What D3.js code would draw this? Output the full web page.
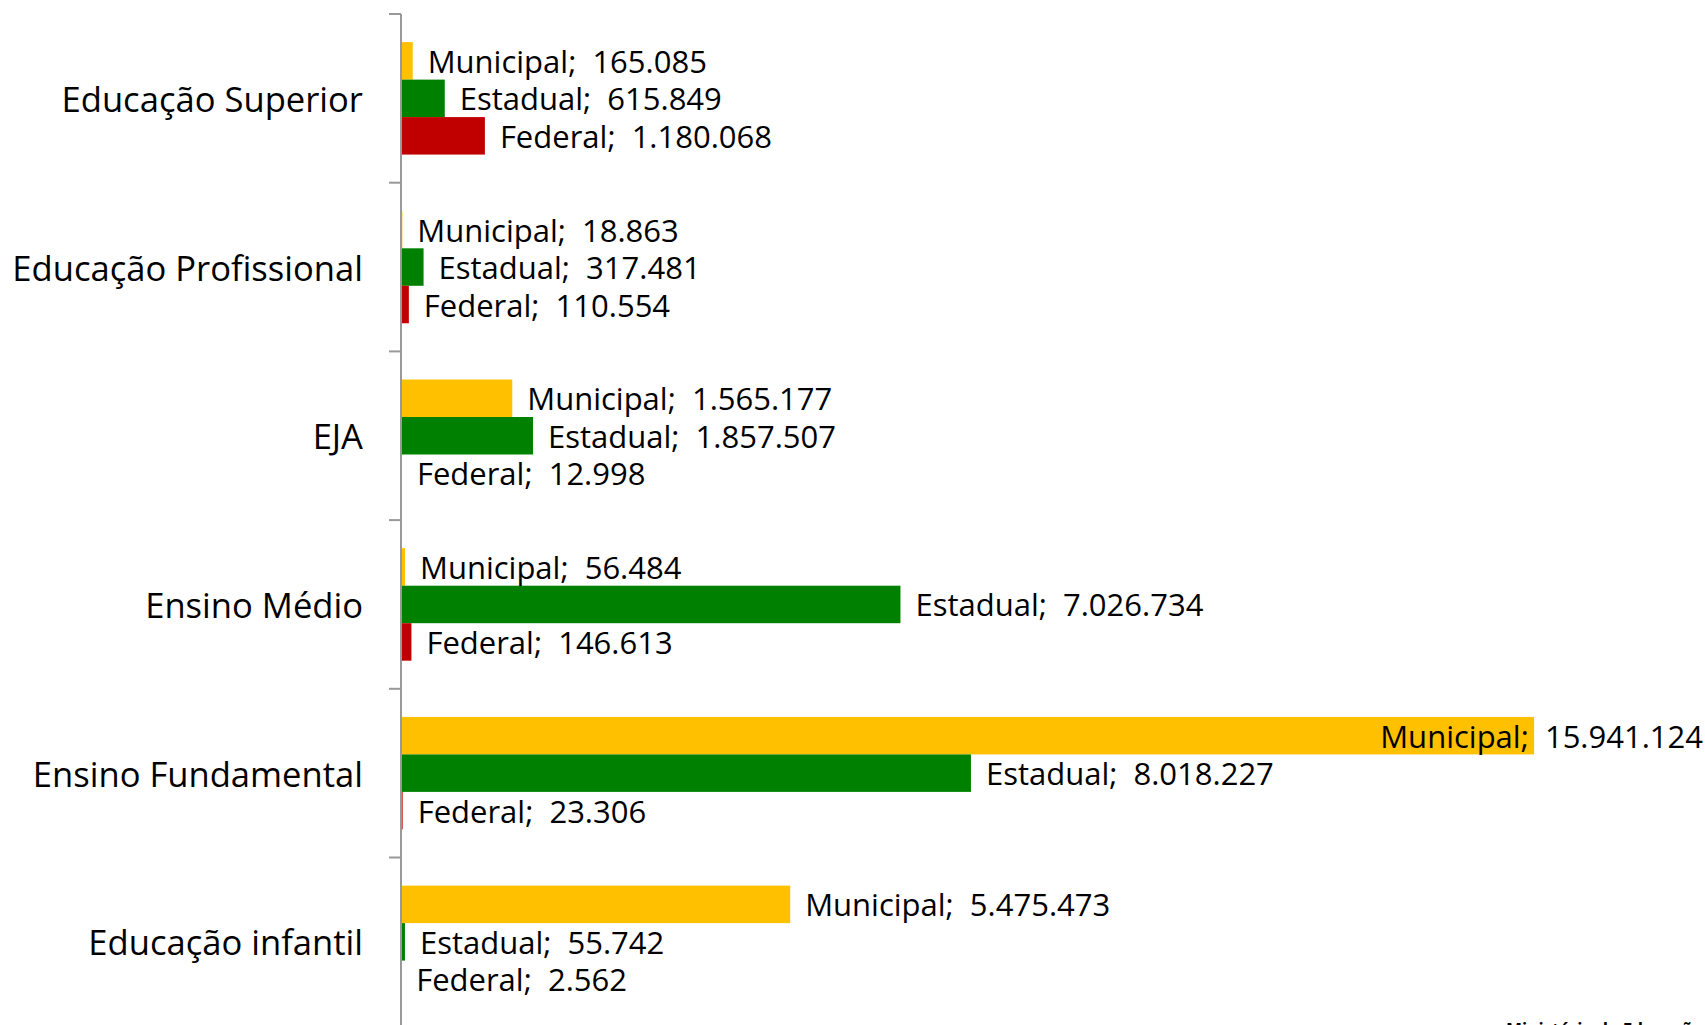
<!DOCTYPE html>
<html>
<head>
<meta charset="utf-8">
<script src="https://d3js.org/d3.v7.min.js"></script>
<style>
  body { margin: 0; background: #fff; overflow: hidden; }
  svg { display: block; font-family: "Open Sans", Lato, sans-serif; }
</style>
</head>
<body>
<svg id="chart" width="1705" height="1025"></svg>
<script>
// categories, top to bottom
var categories = ["Educação Superior", "Educação Profissional", "EJA", "Ensino Médio", "Ensino Fundamental", "Educação infantil"];
var series = ["Municipal", "Estadual", "Federal"];
var colors = ["#FFC000", "#008000", "#C00000"];

// values per category, same order as categories
var municipal = [165085, 18863, 1565177, 56484, 15941124, 5475473];
var estadual = [615849, 317481, 1857507, 7026734, 8018227, 55742];
var federal = [1180068, 110554, 12998, 146613, 23306, 2562];

var valueLists = [municipal, estadual, federal];

var svg = d3.select("#chart");
var axisX = 401, rightEdge = 1703;

// x: 0 .. 16M fits the big bar at ~1534
var x = d3.scaleLinear().domain([0, 16e6]).range([axisX, axisX + 16 * 71.08]);

var y0 = d3.scaleBand().domain(categories).range([14, 14 + 6 * 168.7]).padding(0);
var y1 = d3.scaleBand().domain(series).range([0, y0.bandwidth()]).paddingInner(0).paddingOuter(0.75);

/* build rows */
var rows = [];
categories.forEach(function(cat, i) {
    series.forEach(function(s, j) {
        rows.push({ cat: cat, series: s, value: valueLists[j][i], color: colors[j] });
    });
});

var fmt = function(v) { return d3.format(",")(v).replace(/,/g, "."); };

svg.append("g").selectAll("rect").data(rows).enter().append("rect")
    .attr("x", x(0))
    .attr("y", function(d) { return y0(d.cat) + y1(d.series); })
    .attr("width", function(d) { return x(d.value) - x(0); })
    .attr("height", y1.bandwidth())
    .attr("fill", function(d) { return d.color; });

// axis line + ticks on the left (band edges)
var axis = d3.axisLeft(y0).tickSize(0).tickFormat("");
var ag = svg.append("g").attr("transform", "translate(" + axisX + ",0)").call(axis);
ag.select(".domain").attr("stroke", "#999").attr("stroke-width", 2).attr("d", "M0,14V1030");
var edges = categories.map(function(c) { return y0(c); }).concat([y0.range()[1]]);
ag.selectAll(".edge").data(edges).enter().append("line")
    .attr("x1", -12).attr("x2", 0)
    .attr("y1", function(d) { return d; }).attr("y2", function(d) { return d; })
    .attr("stroke", "#999").attr("stroke-width", 2);

// category labels
svg.append("g").selectAll("text").data(categories).enter().append("text")
    .attr("x", 363)
    .attr("y", function(d) { return y0(d) + y0.bandwidth() / 2; })
    .attr("text-anchor", "end")
    .attr("dominant-baseline", "central")
    .style("font-size", "34.6px")
    .text(function(d) { return d; });

// data labels, pushed back inside when they run past the right edge
var labels = svg.append("g").selectAll("text").data(rows).enter().append("text")
    .attr("y", function(d) { return y0(d.cat) + y1(d.series) + y1.bandwidth() / 2; })
    .attr("dominant-baseline", "central")
    .style("font-size", "31px")
    .style("white-space", "pre")
    .attr("xml:space", "preserve")
    .text(function(d) { return d.series + ";  " + fmt(d.value); });

labels.each(function(d) {
    var w = this.getComputedTextLength();
    var lx = x(d.value) + 15;
    if (lx + w > rightEdge) lx = rightEdge - w;
    d3.select(this).attr("x", lx);
});

// source note, cut at the bottom edge
svg.append("text")
    .attr("x", 1506).attr("y", 1036)
    .style("font-size", "17px").style("font-weight", "bold")
    .text("Ministério da Educação");
</script>
</body>
</html>
